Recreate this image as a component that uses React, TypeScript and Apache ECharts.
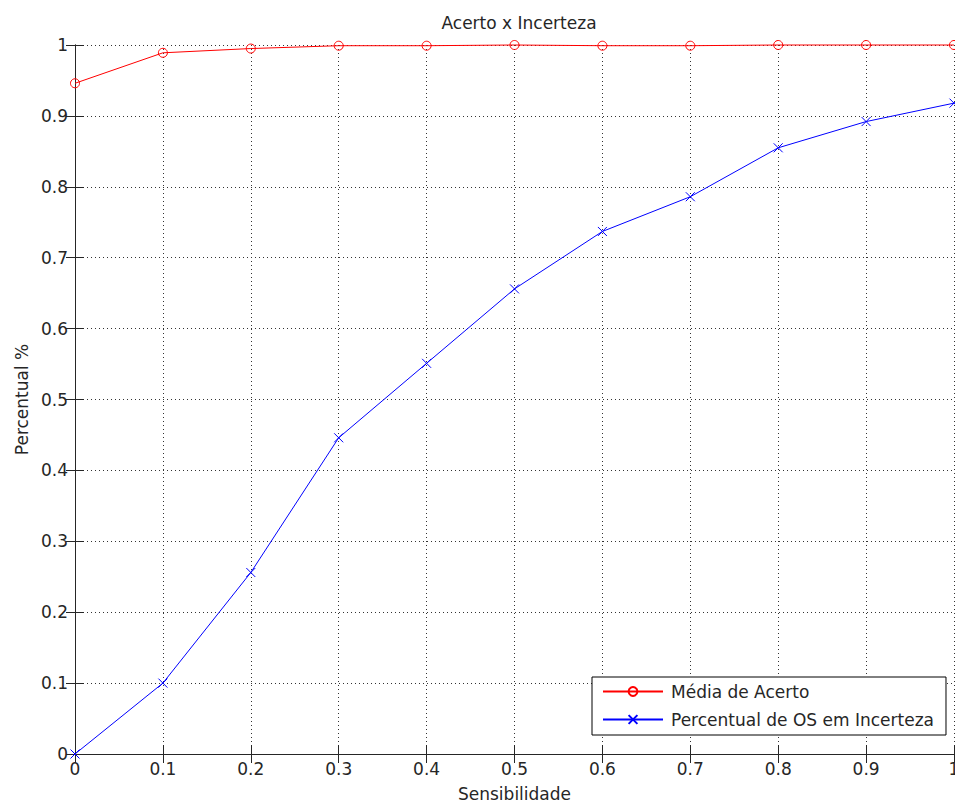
import React, { useEffect, useRef } from "react";
import * as echarts from "echarts";

const sensibilidade = [0, 0.1, 0.2, 0.3, 0.4, 0.5, 0.6, 0.7, 0.8, 0.9, 1];
const mediaAcerto = [0.946, 0.989, 0.995, 0.999, 0.999, 1, 0.999, 0.999, 1, 1, 1];
const percentualIncerteza = [0, 0.1, 0.256, 0.446, 0.551, 0.656, 0.737, 0.786, 0.855, 0.892, 0.918];
const seriesNames = ["Média de Acerto", "Percentual de OS em Incerteza"];
const titleText = "Acerto x Incerteza";
const xName = "Sensibilidade";
const yName = "Percentual %";

const FONT = "DejaVu Sans";
const TXT = "#262626";

export default function App() {
  const ref = useRef<HTMLDivElement>(null);
  useEffect(() => {
    if (!ref.current) return;
    const chart = echarts.init(ref.current, null, { renderer: "svg" });
    const fmt = (v: number) => String(Math.round(v * 10) / 10);
    const tickIn = { show: true, inside: true, length: 9, lineStyle: { color: "#262626", width: 1 } };
    chart.setOption({
      animation: false,
      backgroundColor: "#ffffff",
      title: {
        text: titleText,
        left: 514,
        top: 9,
        textAlign: "center",
        textStyle: { fontFamily: FONT, fontSize: 17, fontWeight: "normal", color: TXT },
      },
      grid: { left: 75, right: 1, top: 45, bottom: 49, containLabel: false, outerBoundsMode: "none" },
      legend: {
        orient: "vertical",
        left: 592,
        top: 677,
        padding: [6, 12, 7, 10],
        itemWidth: 60,
        itemHeight: 11,
        itemGap: 11,
        backgroundColor: "#ffffff",
        borderColor: "#000000",
        borderWidth: 1,
        borderRadius: 0,
        selectedMode: false,
        data: seriesNames,
        textStyle: { fontFamily: FONT, fontSize: 17, color: TXT, padding: [0, 0, 0, 3] },
      },
      xAxis: [
        {
          type: "value",
          min: 0,
          max: 1,
          interval: 0.1,
          position: "bottom",
          name: xName,
          nameLocation: "middle",
          nameGap: 31,
          nameTextStyle: { fontFamily: FONT, fontSize: 17, color: TXT },
          axisLine: { show: true, lineStyle: { color: "#262626", width: 1 } },
          axisTick: tickIn,
          axisLabel: { margin: 6, fontFamily: FONT, fontSize: 17, color: TXT, formatter: fmt, showMaxLabel: true, showMinLabel: true },
          splitLine: { show: true, lineStyle: { color: "#333333", width: 1, type: [1, 3] } },
        },
        {
          type: "value",
          min: 0,
          max: 1,
          interval: 0.1,
          position: "top",
          axisLine: { show: true, lineStyle: { color: "#262626", width: 1 } },
          axisTick: tickIn,
          axisLabel: { show: false },
          splitLine: { show: false },
        },
      ],
      yAxis: [
        {
          type: "value",
          min: 0,
          max: 1,
          interval: 0.1,
          position: "left",
          name: yName,
          nameLocation: "middle",
          nameGap: 44,
          nameTextStyle: { fontFamily: FONT, fontSize: 17, color: TXT },
          axisLine: { show: true, lineStyle: { color: "#262626", width: 1 } },
          axisTick: tickIn,
          axisLabel: { margin: 7, fontFamily: FONT, fontSize: 17, color: TXT, formatter: fmt },
          splitLine: { show: true, lineStyle: { color: "#333333", width: 1, type: [1, 3] } },
        },
        {
          type: "value",
          min: 0,
          max: 1,
          interval: 0.1,
          position: "right",
          axisLine: { show: true, lineStyle: { color: "#262626", width: 1 } },
          axisTick: tickIn,
          axisLabel: { show: false },
          splitLine: { show: false },
        },
      ],
      series: [
        {
          name: seriesNames[0],
          type: "line",
          xAxisIndex: 0,
          yAxisIndex: 0,
          data: sensibilidade.map((x, i) => [x, mediaAcerto[i]]),
          symbol: "circle",
          symbolSize: 9,
          showAllSymbol: true,
          clip: false,
          lineStyle: { color: "#ff0000", width: 1 },
          itemStyle: { color: "rgba(0,0,0,0)", borderColor: "#ff0000", borderWidth: 1 },
          emphasis: { disabled: true },
          z: 3,
        },
        {
          name: seriesNames[1],
          type: "line",
          xAxisIndex: 0,
          yAxisIndex: 0,
          data: sensibilidade.map((x, i) => [x, percentualIncerteza[i]]),
          symbol: "path://M0,0L10,10M10,0L0,10",
          symbolSize: 9,
          showAllSymbol: true,
          clip: false,
          lineStyle: { color: "#0000ff", width: 1 },
          itemStyle: { color: "rgba(0,0,0,0)", borderColor: "#0000ff", borderWidth: 1 },
          emphasis: { disabled: true },
          z: 3,
        },
      ],
    });
    return () => chart.dispose();
  }, []);
  return (
    <div
      ref={ref}
      style={{ position: "fixed", left: 0, top: 0, width: 955, height: 803, background: "#fff" }}
    />
  );
}
